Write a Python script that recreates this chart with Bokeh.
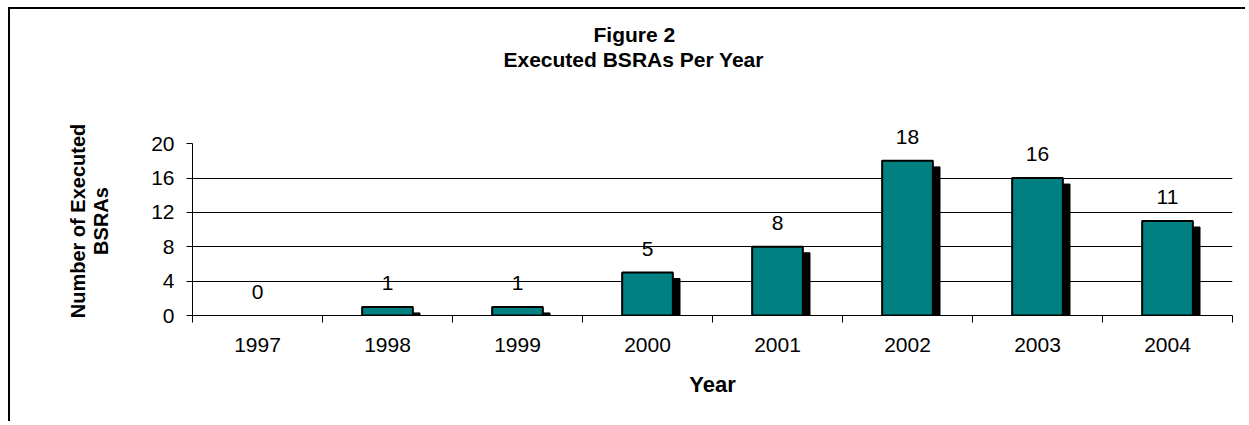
from bokeh.plotting import figure
from bokeh.models import Range1d, FixedTicker, ColumnDataSource, LabelSet, Title, CDSView, BooleanFilter
from bokeh.embed import file_html
from bokeh.resources import INLINE
from bokeh.core.properties import value

years = ["1997", "1998", "1999", "2000", "2001", "2002", "2003", "2004"]
counts = [0, 1, 1, 5, 8, 18, 16, 11]
y_ticks = [0, 4, 8, 12, 16, 20]
grid_ticks = [4, 8, 12, 16]

FONT = "Liberation Sans"
TEAL = "#008080"

xs = [i + 0.5 for i in range(len(years))]
src = ColumnDataSource(dict(
    x=xs,
    count=counts,
    sx=[x + 0.055 for x in xs],
    stop=[max(0.0, c - 0.7) for c in counts],
    label=[str(c) for c in counts],
))
view = CDSView(filter=BooleanFilter([c > 0 for c in counts]))

# headroom above 20 so that the value labels are not clipped
p = figure(width=1237, height=414, output_backend="svg", toolbar_location=None,
           x_range=Range1d(0, len(years)), y_range=Range1d(0, 22),
           min_border_left=182, min_border_right=15, min_border_top=117,
           min_border_bottom=108, tools="",
           title="Figure 2")
p.margin = (7, 0, 0, 8)
p.styles = {"border-top": "2px solid black", "border-left": "2px solid black"}
p.outline_line_color = None
p.background_fill_color = "white"
p.border_fill_color = "white"

p.title.align = "left"
p.title.offset = 401
p.title.text_font = FONT
p.title.text_font_size = "21px"
p.title.text_font_style = "bold"
p.title.text_color = "black"
p.title.standoff = 0
spacer = Title(text=" ", text_font_size="12px", standoff=40)
p.add_layout(spacer, "above")
t2 = Title(text="Executed BSRAs Per Year", align="left", offset=311, text_font=FONT,
           text_font_size="21px", text_font_style="bold", text_color="black",
           standoff=0)
p.add_layout(t2, "above")

# shadows then bars
p.vbar(x="sx", top="stop", bottom=0, width=0.39, source=src, view=view,
       fill_color="black", line_color="black")
p.vbar(x="x", top="count", bottom=0, width=0.39, source=src, view=view,
       fill_color=TEAL, line_color="black", line_width=2)

labels = LabelSet(x="x", y="count", text="label", source=src, y_offset=24,
                  text_align="center", text_baseline="middle",
                  text_font=value(FONT), text_font_size=value("21px"), text_color="black")
p.add_layout(labels)

# x axis
xa = p.xaxis[0]
xa.ticker = FixedTicker(ticks=xs, minor_ticks=list(range(len(years) + 1)))
xa.major_label_overrides = {x: y for x, y in zip(xs, years)}
xa.major_tick_out = 0
xa.major_tick_in = 0
xa.minor_tick_out = 7
xa.minor_tick_in = 0
xa.minor_tick_line_color = "black"
xa.axis_line_color = "black"
xa.major_label_text_font = FONT
xa.major_label_text_font_size = "21px"
xa.major_label_text_color = "black"
xa.major_label_standoff = 15
xa.axis_label = "Year"
xa.axis_label_text_font = FONT
xa.axis_label_text_font_size = "22px"
xa.axis_label_text_font_style = "bold"
xa.axis_label_text_color = "black"
xa.axis_label_standoff = 17
p.xgrid.visible = False

# y axis
ya = p.yaxis[0]
ya.bounds = (0, 20)
ya.ticker = FixedTicker(ticks=y_ticks, minor_ticks=[])
ya.major_tick_out = 6
ya.major_tick_in = 0
ya.axis_line_color = "black"
ya.major_tick_line_color = "black"
ya.major_label_text_font = FONT
ya.major_label_text_font_size = "21px"
ya.major_label_text_color = "black"
ya.major_label_standoff = 12
ya.axis_label = "Number of Executed\nBSRAs"
ya.axis_label_text_font = FONT
ya.axis_label_text_font_size = "20px"
ya.axis_label_text_font_style = "bold"
ya.axis_label_text_color = "black"
ya.axis_label_text_line_height = 1.05
ya.axis_label_standoff = 36
p.ygrid.ticker = FixedTicker(ticks=grid_ticks)
p.ygrid.grid_line_color = "black"
p.ygrid.grid_line_width = 1

open("out.html", "w").write(file_html(p, INLINE))
